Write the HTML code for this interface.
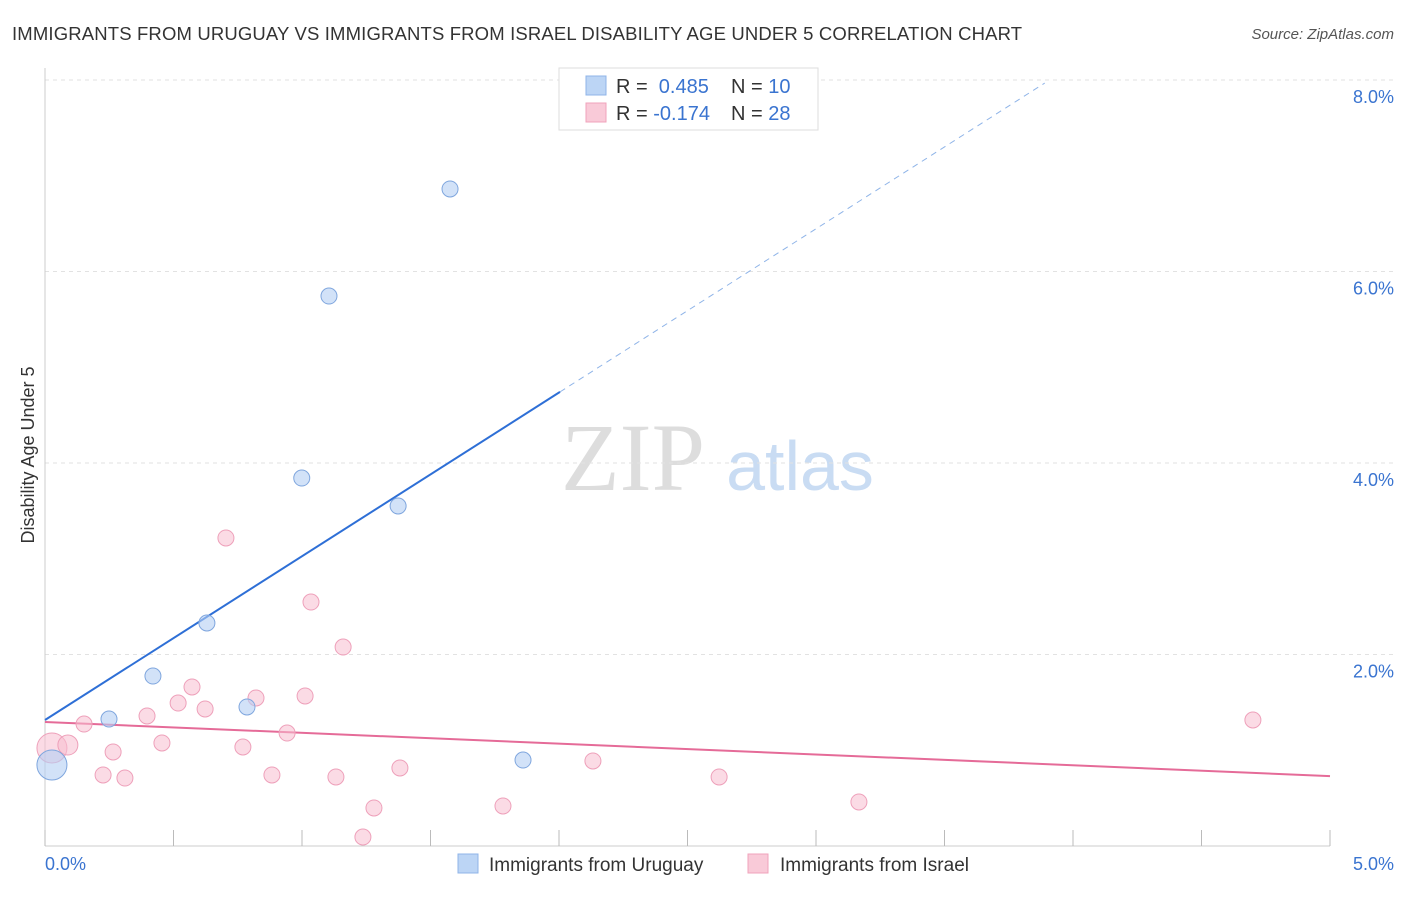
<!DOCTYPE html>
<html><head><meta charset="utf-8"><style>
body{margin:0;background:#fff;font-family:"Liberation Sans",sans-serif;}
svg text{font-family:"Liberation Sans",sans-serif;}
</style></head><body>
<svg id="chart" width="1406" height="892" viewBox="0 0 1406 892" xmlns="http://www.w3.org/2000/svg">
<text x="12" y="40" font-size="18.5" letter-spacing="0.15" fill="#333">IMMIGRANTS FROM URUGUAY VS IMMIGRANTS FROM ISRAEL DISABILITY AGE UNDER 5 CORRELATION CHART</text>
<text x="1394" y="39" font-size="15" fill="#555" font-style="italic" text-anchor="end">Source: ZipAtlas.com</text>
<text x="633" y="490" font-size="96" fill="#ddd" style="font-family:'Liberation Serif',serif" text-anchor="middle">ZIP</text>
<text x="800" y="490" font-size="70" fill="#c9dcf3" text-anchor="middle">atlas</text>
<g id="grid"></g>
<g id="axes"></g>
<g id="lines"></g>
<g id="points"></g>
<text transform="translate(34,455) rotate(-90)" font-size="18" fill="#333" text-anchor="middle">Disability Age Under 5</text>
<text x="45" y="870" font-size="18" fill="#3a74d0">0.0%</text>
<text x="1394" y="870" font-size="18" fill="#3a74d0" text-anchor="end">5.0%</text>
<g>
<rect x="559" y="68" width="259" height="62" fill="#fff" stroke="#ddd"/>
<rect x="586" y="76" width="20" height="19" fill="#bcd5f5" stroke="#8fb4e8"/>
<rect x="586" y="103" width="20" height="19" fill="#f9cad8" stroke="#f0a3bb"/>
<text x="616" y="93" font-size="20" fill="#333">R = <tspan fill="#3a74d0">&#160;0.485</tspan><tspan x="731">N = </tspan><tspan fill="#3a74d0">10</tspan></text>
<text x="616" y="120" font-size="20" fill="#333">R = <tspan fill="#3a74d0">-0.174</tspan><tspan x="731">N = </tspan><tspan fill="#3a74d0">28</tspan></text>
</g>
<g>
<rect x="458" y="854" width="20" height="19" fill="#bcd5f5" stroke="#8fb4e8"/>
<text x="489" y="871" font-size="19" fill="#333">Immigrants from Uruguay</text>
<rect x="748" y="854" width="20" height="19" fill="#f9cad8" stroke="#f0a3bb"/>
<text x="780" y="871" font-size="19" fill="#333">Immigrants from Israel</text>
</g>
</svg>
<script>
const yTicks=[2,4,6,8];
const yTickLabels=["2.0%","4.0%","6.0%","8.0%"];
const xTicks=[0,0.5,1,1.5,2,2.5,3,3.5,4,4.5,5];
const uruguayX=[0.027,0.249,0.420,0.630,0.786,0.999,1.105,1.374,1.576,1.860];
const uruguayY=[0.846,1.326,1.775,2.329,1.452,3.843,5.744,3.551,6.862,0.898];
const uruguaySize=[15,8,8,8,8,8,8,8,8,8];
const israelX=[0.027,0.089,0.152,0.226,0.265,0.311,0.397,0.455,0.518,0.572,0.623,0.704,0.770,0.821,0.883,0.942,1.012,1.035,1.132,1.160,1.237,1.280,1.381,1.782,2.132,2.623,3.167,4.700];
const israelY=[1.023,1.055,1.274,0.742,0.982,0.710,1.358,1.076,1.493,1.661,1.431,3.217,1.034,1.546,0.742,1.180,1.567,2.548,0.721,2.078,0.094,0.397,0.815,0.418,0.888,0.721,0.460,1.316];
const israelSize=[15,10,8,8,8,8,8,8,8,8,8,8,8,8,8,8,8,8,8,8,8,8,8,8,8,8,8,8];
const uruguayTrend=[1.316,1.71];
const uruguaySolidEnd=2.004, uruguayDashEnd=3.89;
const israelTrend=[1.295,-0.113];
const NS="http://www.w3.org/2000/svg";
const X=v=>45+v*257, Y=v=>846-v*95.75;
function mk(parent,tag,attrs){const e=document.createElementNS(NS,tag);for(const k in attrs)e.setAttribute(k,attrs[k]);document.getElementById(parent).appendChild(e);return e;}
yTicks.forEach((t,i)=>{
 const l=mk('grid','line',{x1:45,x2:1394,y1:Y(t),y2:Y(t),stroke:'#e2e2e2','stroke-dasharray':'4,4'});
 
 
 const tx=mk('grid','text',{x:1394,y:Y(t)+23,'font-size':18,fill:'#3a74d0','text-anchor':'end'});
 tx.textContent=yTickLabels[i];
 
 
});
const ax=mk('axes','line',{x1:45,x2:45,y1:68,y2:846,stroke:'#ccc'});


const bx=mk('axes','line',{x1:45,x2:1330,y1:846,y2:846,stroke:'#ccc'});


xTicks.forEach(t=>{
 const l=mk('axes','line',{x1:X(t),x2:X(t),y1:830,y2:846,stroke:'#bbb'});
 
 
});
const f=(tr,x)=>tr[0]+tr[1]*x;
let l1=mk('lines','line',{x1:X(0),y1:Y(f(uruguayTrend,0)),x2:X(uruguaySolidEnd),y2:Y(f(uruguayTrend,uruguaySolidEnd)),stroke:'#2e6fd6','stroke-width':2});


let l2=mk('lines','line',{x1:X(uruguaySolidEnd),y1:Y(f(uruguayTrend,uruguaySolidEnd)),x2:X(uruguayDashEnd),y2:Y(f(uruguayTrend,uruguayDashEnd)),stroke:'#8fb4e8','stroke-width':1,'stroke-dasharray':'6,5'});


let l3=mk('lines','line',{x1:X(0),y1:Y(f(israelTrend,0)),x2:X(5),y2:Y(f(israelTrend,5)),stroke:'#e56b98','stroke-width':2});


israelX.forEach((x,i)=>{
 const c=mk('points','circle',{cx:X(x),cy:Y(israelY[i]),r:israelSize[i],fill:'rgba(248,190,208,0.55)',stroke:'#eea0ba','stroke-width':1});
 
 
});
uruguayX.forEach((x,i)=>{
 const c=mk('points','circle',{cx:X(x),cy:Y(uruguayY[i]),r:uruguaySize[i],fill:'rgba(180,206,244,0.6)',stroke:'#7fa6de','stroke-width':1});
 
 
});
</script>
</body></html>
